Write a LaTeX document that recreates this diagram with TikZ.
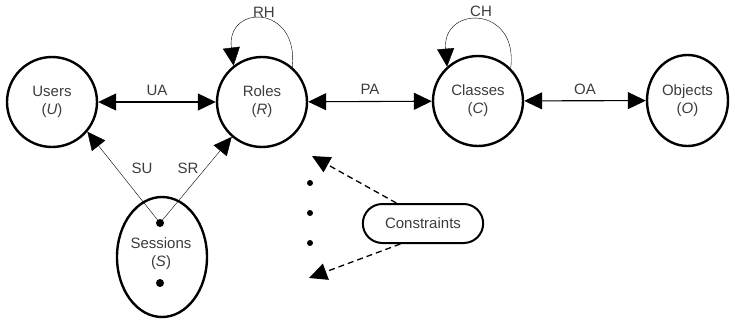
\documentclass[tikz,border=0pt]{standalone}
\usepackage{fontspec}
\setmainfont{Liberation Sans}
\usetikzlibrary{arrows.meta,shapes.geometric,shapes.misc}
\definecolor{txt}{HTML}{3C3C3C}
\definecolor{thin}{HTML}{6E6E6E}
\begin{document}
\begin{tikzpicture}[x=1pt,y=-1pt,
  font=\fontsize{15}{18}\selectfont,
  tip/.style={-{Triangle[length=18pt,width=17pt]}},
  both/.style={{Triangle[length=18pt,width=17pt]}-{Triangle[length=18pt,width=17pt]}},
  entity/.style={circle,draw=black,line width=2.4pt,minimum size=90pt,inner sep=0pt,
    text=txt,align=center},
  assoc/.style={both,line width=1.1pt,black},
  selfloop/.style={tip,line width=0.9pt,thin},
  lbl/.style={text=txt,inner sep=1pt},
  dot/.style={circle,fill=black,inner sep=0pt,minimum size=8pt},
  cons/.style={tip,dashed,dash pattern=on 6pt off 4pt,line width=1.3pt,black}]
\useasboundingbox (0,0) rectangle (732,321);

% entity sets
\node[entity] (U) at (52,102) {Users\\(\textit{U})};
\node[entity] (R) at (262,102) {Roles\\(\textit{R})};
\node[entity] (C) at (478,101) {Classes\\(\textit{C})};
\node[entity,ellipse,minimum width=81pt,minimum height=91pt] (O) at (687.5,100.5) {Objects\\(\textit{O})};
\node[entity,ellipse,minimum width=90pt,minimum height=120pt] (S) at (162,257) {};
\node[text=txt,align=center] (Slbl) at (161,254) {Sessions\\(\textit{S})};
\node[dot] (s1) at (160,223) {};
\node[dot] (s2) at (160,283) {};

% assignment relations
\draw[assoc] (U) -- node[lbl,above=5pt] (UA) {UA} (R);
\draw[assoc] (R) -- node[lbl,above=5pt] (PA) {PA} (C);
\draw[assoc] (C) -- node[lbl,above=5pt] (OA) {OA} (O);

% hierarchies
\draw[selfloop] (R.49) .. controls (299,4) and (226,4) .. (R.128);
\node[lbl] (RH) at (264,12) {RH};
\draw[selfloop] (C.45) .. controls (519,5) and (442,5) .. (C.132);
\node[lbl] (CH) at (481,11) {CH};

% session mappings
\draw[tip,line width=0.9pt,thin] (s1.center) -- (U.-40);
\draw[tip,line width=0.9pt,thin] (s1.center) -- (R.-131);
\node[lbl] (SU) at (142,168) {SU};
\node[lbl] (SR) at (188,168) {SR};

% constraints
\node[rounded rectangle,draw=black,line width=2pt,minimum width=127pt,minimum height=39pt,
  text=txt] (K) at (423,223.5) {Constraints};
\coordinate (k1) at (312,156);
\coordinate (k2) at (309,278);
\draw[cons] (K.north west) ++(14,0) coordinate (ka) -- (k1);
\draw[cons] (K.south west) ++(18,0) coordinate (kb) -- (k2);
\node[dot,minimum size=6pt] (d1) at (310,183) {};
\node[dot,minimum size=6pt] (d2) at (310,213) {};
\node[dot,minimum size=6pt] (d3) at (310,243) {};
\end{tikzpicture}
\end{document}
